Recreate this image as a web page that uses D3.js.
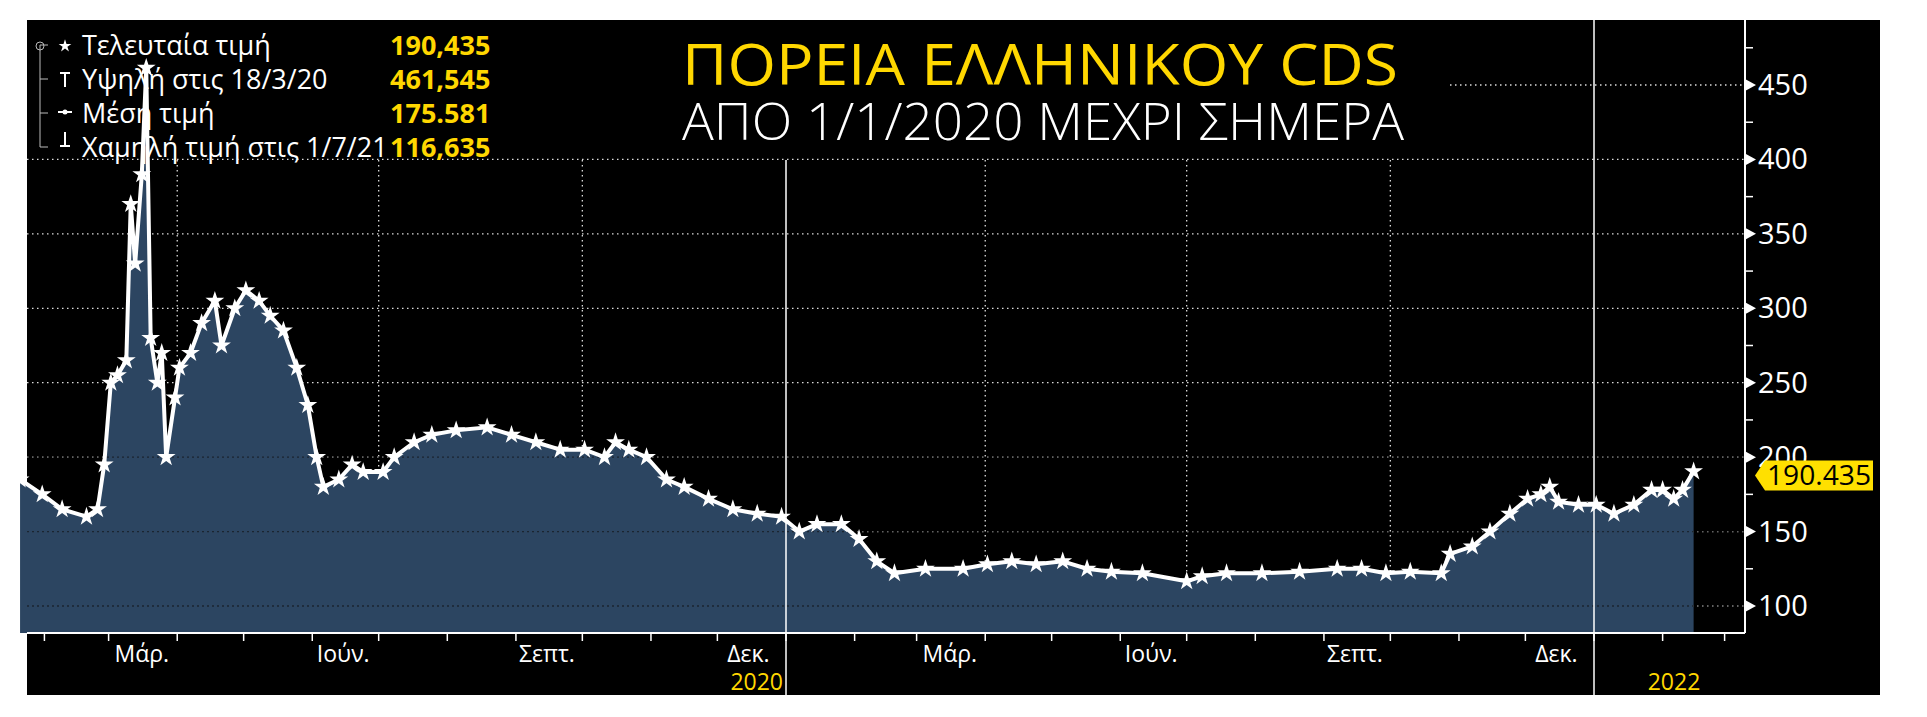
<!DOCTYPE html>
<html><head><meta charset="utf-8">
<script src="https://cdn.jsdelivr.net/npm/d3@7"></script>
<style>body{margin:0;background:#fff}svg{display:block}text{font-family:"Open Sans","Noto Sans",sans-serif}</style>
</head><body><svg id="c" width="1927" height="717"></svg>
<script>
const dates = ["2020-01-21","2020-01-31","2020-02-09","2020-02-20","2020-02-25","2020-02-28","2020-03-02","2020-03-05","2020-03-09","2020-03-11","2020-03-13","2020-03-16","2020-03-18","2020-03-20","2020-03-23","2020-03-25","2020-03-27","2020-03-31","2020-04-02","2020-04-07","2020-04-12","2020-04-18","2020-04-21","2020-04-27","2020-05-02","2020-05-08","2020-05-13","2020-05-19","2020-05-25","2020-05-30","2020-06-03","2020-06-06","2020-06-13","2020-06-19","2020-06-24","2020-07-03","2020-07-08","2020-07-17","2020-07-25","2020-08-05","2020-08-19","2020-08-30","2020-09-10","2020-09-21","2020-10-02","2020-10-11","2020-10-16","2020-10-22","2020-10-30","2020-11-08","2020-11-16","2020-11-27","2020-12-08","2020-12-19","2020-12-30","2021-01-07","2021-01-15","2021-01-26","2021-02-03","2021-02-11","2021-02-19","2021-03-05","2021-03-22","2021-04-02","2021-04-13","2021-04-24","2021-05-06","2021-05-17","2021-05-28","2021-06-11","2021-07-01","2021-07-08","2021-07-19","2021-08-04","2021-08-21","2021-09-07","2021-09-18","2021-09-29","2021-10-10","2021-10-24","2021-10-28","2021-11-07","2021-11-15","2021-11-24","2021-12-02","2021-12-08","2021-12-12","2021-12-16","2021-12-25","2022-01-02","2022-01-10","2022-01-19","2022-01-27","2022-02-01","2022-02-06","2022-02-10","2022-02-15"];
const values = [185,175,165,160,165,195,250,255,265,370,330,390,461.5,280,250,270,200,240,260,270,290,305,275,300,312,305,295,285,260,235,200,180,185,195,190,190,200,210,215,218,220,215,210,205,205,200,210,205,200,185,180,172,165,162,160,150,155,155,145,130,122,125,125,128,130,128,130,125,123,122,116.6,120,122,122,123,125,125,122,123,122,135,140,150,162,172,175,180,170,168,168,162,168,178,178,172,178,190.435];
const yTicks = [100,150,200,250,300,350,400,450];
const monthLabels = [["2020-03-16","Μάρ."],["2020-06-15","Ιούν."],["2020-09-15","Σεπτ."],["2020-12-15","Δεκ."],["2021-03-16","Μάρ."],["2021-06-15","Ιούν."],["2021-09-15","Σεπτ."],["2021-12-15","Δεκ."]];
const yearLabels = [["2021-01-01","2020"],["2022-01-01","2022"]];
const legendLabels = ["Τελευταία τιμή","Υψηλή στις 18/3/20","Μέση τιμή","Χαμηλή τιμή στις 1/7/21"];
const legendValues = ["190,435","461,545","175.581","116,635"];
const titleText = "ΠΟΡΕΙΑ ΕΛΛΗΝΙΚΟΥ CDS";
const subtitleText = "ΑΠΟ 1/1/2020 ΜΕΧΡΙ ΣΗΜΕΡΑ";

const P = d3.timeParse("%Y-%m-%d");
const data = dates.map((d,i)=>({d:P(d),v:values[i]}));
const svg = d3.select("#c");
const L=27,R=1880,T=20,B=695, axisX=1745, plotB=633;
svg.append("rect").attr("x",L).attr("y",T).attr("width",R-L).attr("height",B-T).attr("fill","#000");
const x = d3.scaleTime().domain([P("2021-01-01"),P("2022-01-01")]).range([786,1594]);
const y = d3.scaleLinear().domain([100,450]).range([606,85]);
const left = L;

const g = svg.append("g");
yTicks.forEach(t=>{
  const x0 = t==450? 1450: left;
  g.append("line").attr("x1",x0).attr("x2",axisX).attr("y1",y(t)).attr("y2",y(t))
   .attr("stroke","#ddd").attr("stroke-width",1.3).attr("stroke-dasharray","1.5,3.5");
});
const quarters = d3.timeMonth.every(3).range(P("2020-04-01"),P("2022-03-01")).filter(d=>d.getMonth()!==0);
quarters.forEach(q=>g.append("line").attr("x1",x(q)).attr("x2",x(q)).attr("y1",160).attr("y2",plotB)
  .attr("stroke","#ddd").attr("stroke-width",1.3).attr("stroke-dasharray","1.5,3.5"));

const area = d3.area().x(d=>x(d.d)).y0(plotB).y1(d=>y(d.v));
svg.append("path").datum(data).attr("d",area).attr("fill","#2c4561");
yTicks.filter(t=>t<=200).forEach(t=>svg.append("line").attr("x1",left).attr("x2",axisX).attr("y1",y(t)).attr("y2",y(t))
   .attr("stroke","#111").attr("stroke-width",1.3).attr("stroke-dasharray","2,3").attr("opacity",0.6));
const line = d3.line().x(d=>x(d.d)).y(d=>y(d.v));
svg.append("path").datum(data).attr("d",line).attr("fill","none").attr("stroke","#fff").attr("stroke-width",4).attr("stroke-linejoin","round");
svg.append("g").selectAll("path").data(data).join("path")
  .attr("transform",d=>`translate(${x(d.d)},${y(d.v)})`)
  .attr("d",d3.symbol(d3.symbolStar,110)).attr("fill","#fff");

yearLabels.forEach(([d,t])=>{
  const xx=x(P(d)), first=d==="2021-01-01";
  svg.append("line").attr("x1",xx).attr("x2",xx).attr("y1",first?160:T).attr("y2",B).attr("stroke","#fff").attr("stroke-width",1.5);
  svg.append("text").attr("x",first?xx-3:xx+80).attr("y",690).attr("text-anchor",first?"end":"middle")
    .attr("fill","#ffd700").attr("font-size",23).text(t);
});
svg.append("line").attr("x1",L).attr("x2",axisX).attr("y1",plotB).attr("y2",plotB).attr("stroke","#fff").attr("stroke-width",2);
d3.timeMonth.range(P("2020-02-01"),P("2022-04-01")).forEach(m=>{
  if(x(m)>axisX) return;
  svg.append("line").attr("x1",x(m)).attr("x2",x(m)).attr("y1",plotB).attr("y2",plotB+8).attr("stroke","#fff").attr("stroke-width",1.5);
});
monthLabels.forEach(([d,t])=>svg.append("text").attr("x",x(P(d))).attr("y",662).attr("text-anchor","middle")
  .attr("fill","#fff").attr("font-size",23).text(t));
svg.append("line").attr("x1",axisX).attr("x2",axisX).attr("y1",T).attr("y2",plotB).attr("stroke","#fff").attr("stroke-width",2);
d3.range(100,476,25).forEach(t=>svg.append("line").attr("x1",axisX).attr("x2",axisX+8).attr("y1",y(t)).attr("y2",y(t)).attr("stroke","#fff").attr("stroke-width",1.5));
yTicks.forEach(t=>{
  svg.append("path").attr("d",`M${axisX},${y(t)-6}L${axisX+11},${y(t)}L${axisX},${y(t)+6}Z`).attr("fill","#fff");
  svg.append("text").attr("x",axisX+13).attr("y",y(t)+10).attr("fill","#fff").attr("font-size",29).text(t);
});
const lv = values[values.length-1], ly=y(lv)+4;
svg.append("path").attr("d",`M${axisX+10},${ly}L${axisX+20},${ly-15}L${axisX+128},${ly-15}L${axisX+128},${ly+15}L${axisX+20},${ly+15}Z`).attr("fill","#ffe000");
svg.append("text").attr("x",axisX+74).attr("y",ly+10).attr("text-anchor","middle").attr("font-size",28).attr("fill","#000")
  .attr("textLength",104).attr("lengthAdjust","spacingAndGlyphs").text("190.435");

svg.append("text").attr("x",682).attr("y",85).attr("fill","#ffd700").attr("font-size",56).attr("textLength",716).attr("lengthAdjust","spacingAndGlyphs").text(titleText);
svg.append("text").attr("x",682).attr("y",140).attr("fill","#fff").attr("font-size",52).attr("textLength",722).attr("lengthAdjust","spacingAndGlyphs").attr("font-weight",300).text(subtitleText);

legendLabels.forEach((t,i)=>{
  const yy=55+i*34;
  svg.append("text").attr("x",82).attr("y",yy).attr("fill","#fff").attr("font-size",27).text(t);
  svg.append("text").attr("x",390).attr("y",yy).attr("fill","#ffd700").attr("font-size",27).attr("font-weight",700).text(legendValues[i]);
  svg.append("line").attr("x1",40).attr("x2",48).attr("y1",yy-10).attr("y2",yy-10).attr("stroke","#bbb");
});
svg.append("line").attr("x1",40).attr("x2",40).attr("y1",45).attr("y2",147).attr("stroke","#bbb");
svg.append("circle").attr("cx",40).attr("cy",46).attr("r",4).attr("fill","none").attr("stroke","#bbb");
svg.append("path").attr("transform","translate(65,46)").attr("d",d3.symbol(d3.symbolStar,50)).attr("fill","#fff");
svg.append("path").attr("d","M60,73L70,73M65,73L65,87").attr("stroke","#fff").attr("stroke-width",2);
svg.append("path").attr("d","M58,112L72,112").attr("stroke","#fff").attr("stroke-width",2);
svg.append("circle").attr("cx",65).attr("cy",112).attr("r",2.5).attr("fill","#fff");
svg.append("path").attr("d","M65,132L65,146M60,146L70,146").attr("stroke","#fff").attr("stroke-width",2);
</script></body></html>
